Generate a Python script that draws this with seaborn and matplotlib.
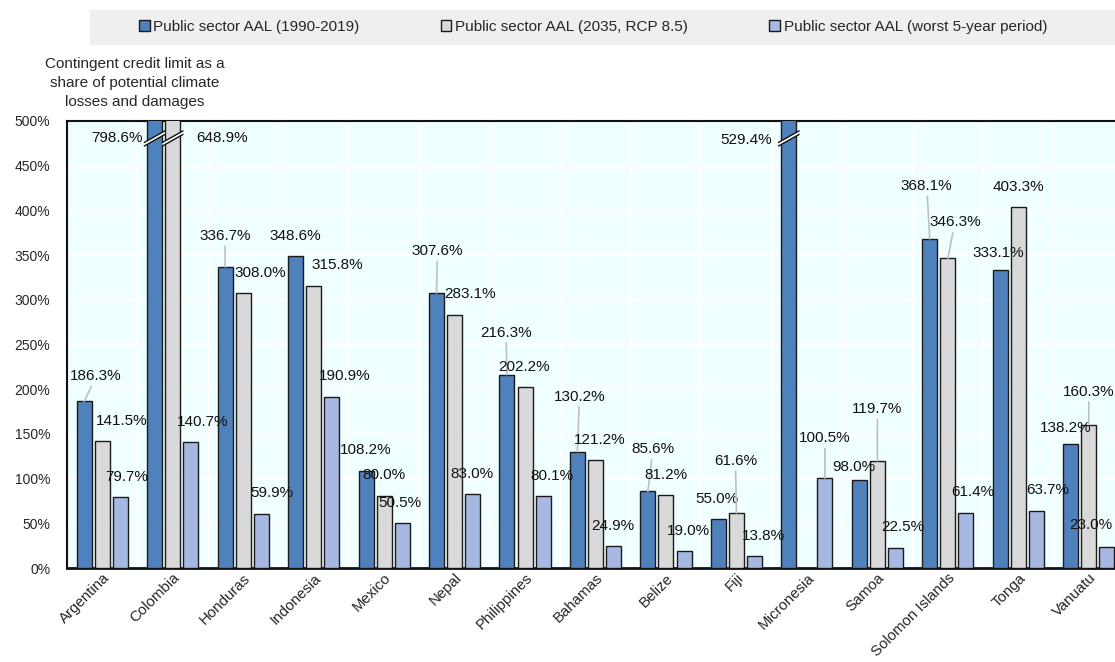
"""Contingent credit limit vs. public sector AAL, grouped bar chart."""

import matplotlib
matplotlib.use("Agg")
import matplotlib.pyplot as plt
from matplotlib.patches import Polygon, Rectangle
from matplotlib.ticker import FixedLocator
import numpy as np
import pandas as pd
import seaborn as sns

# --- data -------------------------------------------------------------------
countries = ["Argentina", "Colombia", "Honduras", "Indonesia", "Mexico", "Nepal",
             "Philippines", "Bahamas", "Belize", "Fiji", "Micronesia", "Samoa",
             "Solomon Islands", "Tonga", "Vanuatu"]
series = ["Public sector AAL (1990-2019)",
          "Public sector AAL (2035, RCP 8.5)",
          "Public sector AAL (worst 5-year period)"]
aal_hist = [186.3, 798.6, 336.7, 348.6, 108.2, 307.6, 216.3, 130.2, 85.6,
            55.0, 529.4, 98.0, 368.1, 333.1, 138.2]
aal_2035 = [141.5, 648.9, 308.0, 315.8, 80.0, 283.1, 202.2, 121.2, 81.2,
            61.6, np.nan, 119.7, 346.3, 403.3, 160.3]
aal_worst = [79.7, 140.7, 59.9, 190.9, 50.5, 83.0, 80.1, 24.9, 19.0,
             13.8, 100.5, 22.5, 61.4, 63.7, 23.0]
y_ticks = [0, 50, 100, 150, 200, 250, 300, 350, 400, 450, 500]
y_title = "Contingent credit limit as a\nshare of potential climate\nlosses and damages"

colors = ["#4F81BD", "#D9D9D9", "#A7B9E3"]

# label placement (pixel offsets from bar top) and whether a leader line is drawn
label_offsets = [
    [(12, 25), (-38, -17), (0, 31), (0, 20), (0, 21), (1, 42), (-1, 42), (2, 55),
     (5, 42), (-1, 20), (-43, -19), (-5, 13), (-3, 53), (-2, 17), (-5, 16)],
    [(19, 20), (49, -17), (17, 20), (24, 21), (0, 21), (15, 21), (-1, 20), (4, 20),
     (0, 20), (-1, 52), (0, 0), (0, 52), (7, 36), (0, 20), (0, 33)],
    [(6, 20), (12, 20), (11, 21), (13, 21), (-2, 20), (-1, 20), (9, 20), (-1, 20),
     (4, 20), (9, 20), (0, 40), (7, 21), (7, 21), (11, 21), (-16, 22)],
]
leaders = [
    [1, 0, 1, 0, 0, 1, 1, 1, 1, 0, 0, 0, 1, 0, 0],
    [0, 0, 0, 0, 0, 0, 0, 0, 0, 1, 0, 1, 1, 0, 1],
    [0, 0, 0, 0, 0, 0, 0, 0, 0, 0, 1, 0, 0, 0, 0],
]

df = pd.DataFrame({
    "country": countries * 3,
    "series": [s for s in series for _ in countries],
    "value": aal_hist + aal_2035 + aal_worst,
})

# --- plot -------------------------------------------------------------------
sns.set_style("white")
plt.rcParams["font.family"] = ["Liberation Sans", "DejaVu Sans"]
plt.rcParams["font.size"] = 10

fig = plt.figure(figsize=(11.15, 6.62), dpi=100)
ax = fig.add_axes([67 / 1115, 1 - 568 / 662, (1124 - 67) / 1115, 447 / 662])
ax.set_facecolor("#F0FFFF")

sns.barplot(data=df, x="country", y="value", hue="series", order=countries,
            hue_order=series, palette=colors, saturation=1, width=0.77, gap=0.17,
            edgecolor="#1A1A1A", linewidth=1, ax=ax, zorder=3)

ymax = 500
ax.set_ylim(0, ymax)
ax.set_xlim(-0.5, len(countries) - 0.5)
ax.set_yticks(y_ticks)
ax.set_yticklabels([f"{t}%" for t in y_ticks])
ax.set_xlabel("")
ax.set_ylabel("")
ax.xaxis.set_minor_locator(FixedLocator(np.arange(0.5, len(countries) - 0.5, 1)))
ax.tick_params(axis="x", which="major", length=0, pad=2)
ax.tick_params(axis="x", which="minor", direction="in", length=5, width=1, color="#222222")
ax.tick_params(axis="y", direction="in", length=5, width=1, pad=12, color="#222222",
               labelsize=10)
ax.set_xticks(range(len(countries)))
ax.set_xticklabels(countries, rotation=45, ha="right", va="top", rotation_mode="anchor",
                   fontsize=10.8)

ax.grid(True, which="major", axis="y", color="white", linewidth=1.5, zorder=0)
ax.grid(True, which="minor", axis="x", color="white", linewidth=1.5, zorder=0)
ax.set_axisbelow(True)
for side in ["left", "bottom", "top"]:
    ax.spines[side].set_visible(True)
    ax.spines[side].set_color("#111111")
    ax.spines[side].set_linewidth(1.5)
ax.spines["bottom"].set_linewidth(2)

# value labels + break marks
for s_idx, cont in enumerate(ax.containers):
    for patch in cont.patches:
        h = patch.get_height()
        if np.isnan(h):
            continue
        xc = patch.get_x() + patch.get_width() / 2
        c_idx = int(round(xc))
        dx, dy = label_offsets[s_idx][c_idx]
        top = min(h, ymax)
        arrow = None
        if leaders[s_idx][c_idx]:
            arrow = dict(arrowstyle="-", color="#BFBFBF", lw=1.2, shrinkA=0, shrinkB=0)
        ax.annotate(f"{h:.1f}%", xy=(xc, top), xytext=(dx, dy),
                    textcoords="offset pixels", ha="center", va="center",
                    fontsize=11, color="#111111", arrowprops=arrow,
                    annotation_clip=False, zorder=6)
        if h > ymax:
            x0 = patch.get_x() - 0.04
            x1 = patch.get_x() + patch.get_width() + 0.04
            y0, rise, band = 472, 13, 4
            band_poly = Polygon([(x0, y0), (x1, y0 + rise), (x1, y0 + rise + band),
                                 (x0, y0 + band)], closed=True, facecolor="white",
                                edgecolor="none", zorder=5, clip_on=False)
            ax.add_patch(band_poly)
            ax.plot([x0, x1], [y0, y0 + rise], color="#111111", lw=1, zorder=5.5,
                    clip_on=False)
            ax.plot([x0, x1], [y0 + band, y0 + rise + band], color="#111111", lw=1,
                    zorder=5.5, clip_on=False)

# legend on grey band
handles, labels = ax.get_legend_handles_labels()
ax.get_legend().remove()
fig.patches.append(Rectangle((90 / 1115, 1 - 45 / 662), 1 - 90 / 1115, 35 / 662,
                             transform=fig.transFigure, facecolor="#EFEFEF",
                             edgecolor="none", zorder=0))
fig.legend(handles, labels, loc="center", bbox_to_anchor=(593 / 1115, 1 - 27 / 662),
           ncol=3, frameon=False, fontsize=11, handlelength=0.7, handleheight=0.7,
           handletextpad=0.25, columnspacing=5.3)

fig.text(135 / 1115, 1 - 83 / 662, y_title, ha="center", va="center",
         fontsize=11, linespacing=1.45)

fig.savefig("out.png", dpi=100)
